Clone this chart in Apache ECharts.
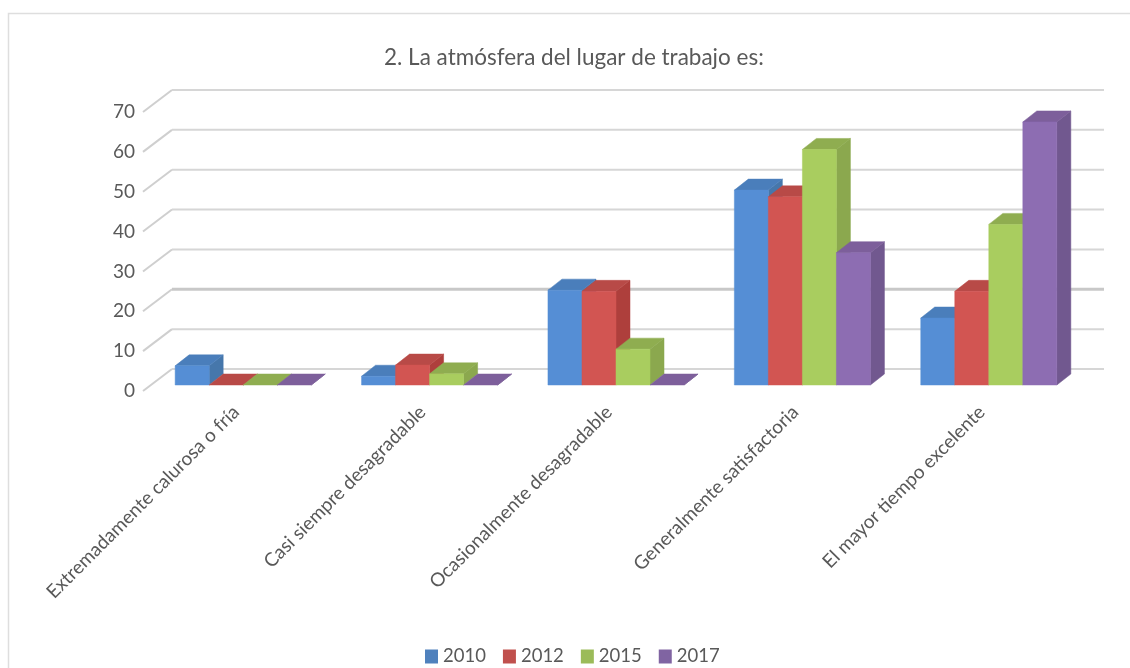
<!DOCTYPE html>
<html><head><meta charset="utf-8">
<style>html,body{margin:0;padding:0;background:#fff}#c{width:1130px;height:668px}</style>
<script src="https://cdn.jsdelivr.net/npm/echarts@6/dist/echarts.min.js"></script>
</head><body><div id="c"></div>
<script>
const categories = ['Extremadamente calurosa o fría','Casi siempre desagradable','Ocasionalmente desagradable','Generalmente satisfactoria','El mayor tiempo excelente'];
const years = ['2010','2012','2015','2017'];
const v2010 = [4.8, 2.2, 23.8, 48.9, 16.8];
const v2012 = [0, 5, 23.5, 47.2, 23.5];
const v2015 = [0, 2.8, 9, 59.1, 40.3];
const v2017 = [0, 0, 0, 33.2, 66];
const yTicks = [0,10,20,30,40,50,60,70];
const front = ['#558ED5','#D25552','#A9CD5F','#8D6DB2'];
const tops  = ['#4A7EBB','#B84A47','#8FAD50','#7D5F9B'];
const sides = ['#4677AB','#AE3F3C','#8BA84E','#71588F'];
const legendColors = ['#4F81BD','#C0504D','#9BBB59','#8064A2'];
const allValues = [v2010,v2012,v2015,v2017];

const chart = echarts.init(document.getElementById('c'));
const WALL_DX = 29, WALL_DY = -22, BAR_PLANE_DX = 7, BAR_PLANE_DY = -6, BAR_DX = 14, BAR_DY = -11;

function wallItem(params, api){
  const cs = params.coordSys;
  const val = api.value(0);
  const y = api.coord([0, val])[1];
  return {type:'group',silent:true,children:[
    {type:'polyline',shape:{points:[[cs.x,y],[cs.x+WALL_DX,y+WALL_DY]]},
      style:{stroke:'#CFCFCF',lineWidth:2,fill:null}},
    {type:'polyline',shape:{points:[[cs.x+WALL_DX,y+WALL_DY],[cs.x+cs.width+WALL_DX,y+WALL_DY]]},
      style:{stroke:val===20?'#C8C8C8':'#D6D6D6',lineWidth:val===20?3:2,fill:null}}
  ]};
}
function barRenderer(s){
  return function(params, api){
    const i = api.value(0), val = api.value(1);
    const band = api.size([1,0])[0];
    const w = band*0.1825;
    const c = api.coord([i,0]);
    const t = api.coord([i,val]);
    const x0 = c[0]+BAR_PLANE_DX+(s-2)*w, x1 = x0+w;
    const y0 = c[1]+BAR_PLANE_DY, y1 = t[1]+BAR_PLANE_DY;
    const poly = (pts,fill)=>({type:'polygon',shape:{points:pts},style:{fill:fill,stroke:fill,lineWidth:0.5}});
    const kids = [];
    kids.push(poly([[x1,y0],[x1+BAR_DX,y0+BAR_DY],[x1+BAR_DX,y1+BAR_DY],[x1,y1]],sides[s]));
    kids.push(poly([[x0,y1],[x0+BAR_DX,y1+BAR_DY],[x1+BAR_DX,y1+BAR_DY],[x1,y1]],tops[s]));
    if(val>0) kids.push(poly([[x0,y0],[x1,y0],[x1,y1],[x0,y1]],front[s]));
    return {type:'group',children:kids};
  };
}
const series = [{
  type:'custom', name:'walls', silent:true, z:1,
  data:yTicks.map(v=>[v]), encode:{y:0}, renderItem:wallItem
}];
years.forEach((yr,s)=>{
  series.push({type:'custom',name:yr,z:2+s,
    itemStyle:{color:legendColors[s]},
    data:categories.map((c,i)=>[i,allValues[s][i]]),
    encode:{x:0,y:1}, renderItem:barRenderer(s)});
});
chart.setOption({
  animation:false, backgroundColor:'#fff',
  title:{text:'2. La atmósfera del lugar de trabajo es:',left:379,top:41,
    textStyle:{fontFamily:'Lato',fontSize:22.5,fontWeight:'normal',color:'#595959'}},
  legend:{data:years,left:420,top:642,icon:'rect',itemWidth:13,itemHeight:14,itemGap:17,
    textStyle:{fontFamily:'Lato',fontSize:18.5,color:'#595959'}},
  grid:{left:143,top:112,width:932,height:279},
  xAxis:{type:'category',data:categories,axisLine:{show:false},axisTick:{show:false},splitLine:{show:false},
    axisLabel:{rotate:45,interval:0,margin:18,fontFamily:'Lato',fontSize:19,color:'#595959'}},
  yAxis:{type:'value',min:0,max:70,interval:10,axisLine:{show:false},axisTick:{show:false},splitLine:{show:false},
    axisLabel:{margin:8,fontFamily:'Lato',fontSize:19,color:'#595959'}},
  graphic:[{type:'polyline',silent:true,z:0,shape:{points:[[8.5,668],[8.5,13.5],[1130,13.5]]},
    style:{fill:null,stroke:'#DEDEDE',lineWidth:1.5}}],
  series:series
});
</script></body></html>
